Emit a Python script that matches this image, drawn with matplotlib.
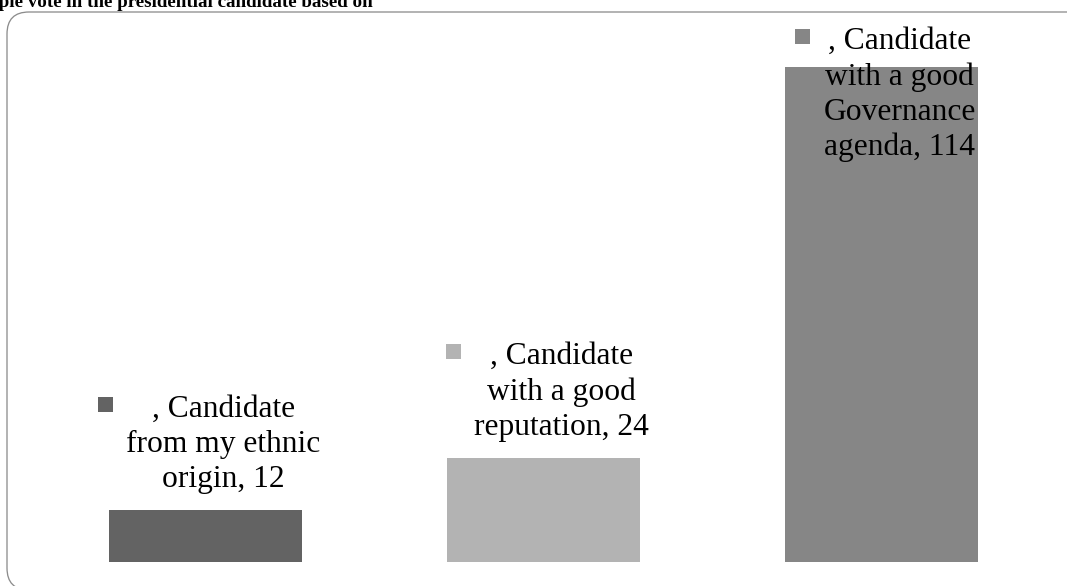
import matplotlib
matplotlib.use("Agg")
import matplotlib.pyplot as plt
from matplotlib.patches import FancyBboxPatch, Rectangle
from matplotlib.transforms import IdentityTransform

# ---- data ----
categories = [", Candidate\nfrom my ethnic\norigin",
              ", Candidate\nwith a good\nreputation",
              ", Candidate\nwith a good\nGovernance\nagenda"]
values = [12, 24, 114]
colors = ["#636363", "#b3b3b3", "#868686"]
title = "people vote in the presidential candidate based on"

W, H, DPI = 1067, 586, 72
fig = plt.figure(figsize=(W / DPI, H / DPI), dpi=DPI)
fig.patch.set_facecolor("white")

# rounded border frame (display px, origin bottom-left)
frame = FancyBboxPatch((7, -4), 1090, H - 12 + 4,
                       boxstyle="round,pad=0,rounding_size=22",
                       transform=IdentityTransform(), fill=False,
                       ec="#8c8c8c", lw=1.3)
fig.add_artist(frame)

# title (partly cut off at the figure's top edge, as in the reference)
fig.text(373 / W, 1 - 7 / H, title, ha="right", va="baseline",
         fontfamily="Liberation Serif", fontweight="bold", fontsize=19)

ax_left, ax_w = 36.5, 1014
ax_bottom, ax_h = 24, 543
ax = fig.add_axes([ax_left / W, ax_bottom / H, ax_w / W, ax_h / H])
ax.set_xlim(-0.5, len(values) - 0.5)
ax.set_ylim(0, 125)
ax.axis("off")

x = list(range(len(values)))
ax.bar(x, values, width=0.571, color=colors, zorder=2)

texts = []
for i, (lab, v) in enumerate(zip(categories, values)):
    t = ax.annotate(f"{lab}, {v}", xy=(i, v), xytext=(18, 16),
                    textcoords="offset points", ha="center", va="bottom",
                    fontfamily="Liberation Serif", fontsize=31.5,
                    linespacing=1.27, color="black", zorder=3)
    texts.append(t)

fig.canvas.draw()
renderer = fig.canvas.get_renderer()
ax_bb = ax.get_window_extent(renderer)
for i, t in enumerate(texts):
    bb = t.get_window_extent(renderer)
    if bb.y1 > ax_bb.y1:
        # does not fit above the bar: place at top inside the plot area
        t.xy = (i, 1.0)
        t.xycoords = ax.get_xaxis_transform()
        t.set_va("top")
        t.set_position((18, -8))
fig.canvas.draw()
for i, t in enumerate(texts):
    bb = t.get_window_extent(renderer)
    sq = 15
    fig.add_artist(Rectangle((bb.x0 - 21 - sq / 2, bb.y1 - 2 - sq), sq, sq,
                             transform=IdentityTransform(),
                             fc=colors[i], ec="none", zorder=4))

fig.savefig("out.png", dpi=DPI, facecolor="white")
